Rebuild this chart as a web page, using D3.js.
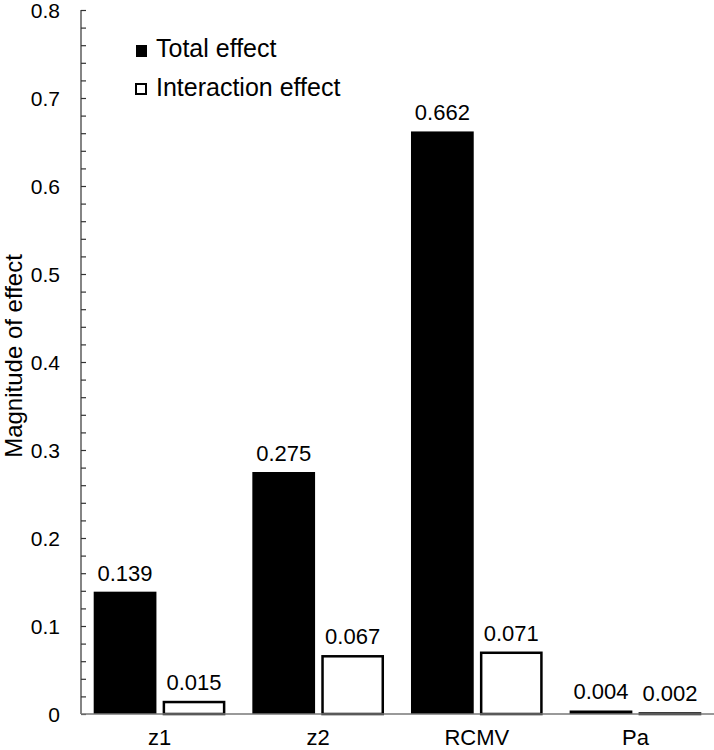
<!DOCTYPE html>
<html><head><meta charset="utf-8">
<script src="https://cdn.jsdelivr.net/npm/d3@7"></script>
<style>body{margin:0;background:#fff}svg{display:block}text{font-family:"Liberation Sans",Arial,sans-serif;fill:#000}</style>
</head><body><svg id="c" width="714" height="750"></svg>
<script>
const categories = ["z1","z2","RCMV","Pa"];
const seriesNames = ["Total effect","Interaction effect"];
const totalEffect = [0.139,0.275,0.662,0.004];
const interactionEffect = [0.015,0.067,0.071,0.002];
const valueLabels = [["0.139","0.275","0.662","0.004"],["0.015","0.067","0.071","0.002"]];
const yTicks = [0,0.1,0.2,0.3,0.4,0.5,0.6,0.7,0.8];

(function(){
const svg = d3.select("#c");
const pL = 81, pR = 714, pT = 10, pB = 714;
const y = d3.scaleLinear().domain([0,0.8]).range([pB, pT]);
const x0 = d3.scaleBand().domain(categories).range([pL,pR]).paddingInner(0.17).paddingOuter(0.08);
const x1 = d3.scaleBand().domain([0,1]).range([0,x0.bandwidth()]).paddingInner(0.09);

const yAxis = d3.axisLeft(y).tickValues(d3.range(0,0.8001,0.02)).tickSize(-5).tickFormat("");
const ya = svg.append("g").attr("transform",`translate(${pL},0)`).call(yAxis);
ya.select(".domain").attr("stroke","#333").attr("stroke-width",1.2).attr("d",`M0,${pT}V${pB}`);
ya.selectAll(".tick line").attr("stroke","#333").attr("stroke-width",1.2);
svg.append("g").selectAll("text").data(yTicks).join("text")
  .attr("x",pL-21).attr("y",d=>y(d)+7.5).attr("text-anchor","end").attr("font-size",21)
  .text(d=>d===0?"0":d3.format(".1f")(d));

const data = categories.map((c,i)=>[totalEffect[i],interactionEffect[i]]);
const g = svg.append("g");
categories.forEach((c,i)=>{
  data[i].forEach((v,j)=>{
    const bx = x0(c)+x1(j), bw = x1.bandwidth();
    if(j===0){
      g.append("rect").attr("x",bx).attr("y",y(v)).attr("width",bw).attr("height",y(0)-y(v)).attr("fill","#000");
    } else {
      g.append("rect").attr("x",bx+1.25).attr("y",y(v)+1.25).attr("width",bw-2.5).attr("height",Math.max(0,y(0)-y(v)-1.25))
        .attr("fill","#fff").attr("stroke","#000").attr("stroke-width",2.5);
    }
    g.append("text").attr("x",bx+bw/2).attr("y",y(v)-11).attr("text-anchor","middle").attr("font-size",22).text(valueLabels[j][i]);
  });
  svg.append("text").attr("x",x0(c)+x0.bandwidth()/2).attr("y",745).attr("text-anchor","middle").attr("font-size",22).text(c);
});

svg.append("line").attr("x1",pL).attr("x2",pR).attr("y1",pB).attr("y2",pB).attr("stroke","#777").attr("stroke-width",1.5);

svg.append("text").attr("transform",`translate(22,356) rotate(-90)`).attr("text-anchor","middle").attr("font-size",24).text("Magnitude of effect");

const lg = svg.append("g");
lg.append("rect").attr("x",136).attr("y",45).attr("width",11).attr("height",12).attr("fill","#000");
lg.append("text").attr("x",156).attr("y",57).attr("font-size",25).text(seriesNames[0]);
lg.append("rect").attr("x",136).attr("y",84).attr("width",10).attr("height",10).attr("fill","#fff").attr("stroke","#000").attr("stroke-width",2);
lg.append("text").attr("x",156).attr("y",96).attr("font-size",25).text(seriesNames[1]);
})();
</script></body></html>
